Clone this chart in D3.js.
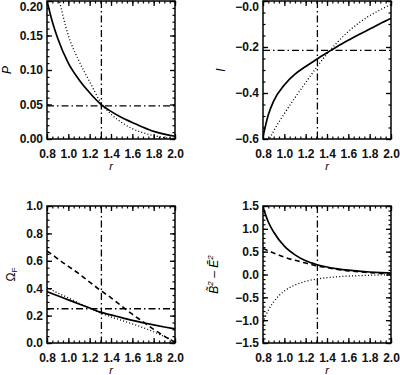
<!DOCTYPE html>
<html>
<head>
<meta charset="utf-8">
<script src="https://cdn.jsdelivr.net/npm/d3@7"></script>
<style>
  body { margin: 0; background: #fff; }
  svg text { font-family: "Liberation Sans", Arial, sans-serif; }
</style>
</head>
<body>
<svg id="chart" width="400" height="375"></svg>
<script>
// radius grid shared by every curve
const rValues = [0.8, 0.85, 0.9, 1.0, 1.1, 1.2, 1.3, 1.4, 1.5, 1.6, 1.7, 1.8, 1.9, 2.0];

// panel 1: P
const pSolid  = [0.200, 0.170, 0.146, 0.110, 0.086, 0.067, 0.051, 0.040, 0.031, 0.024, 0.017, 0.011, 0.007, 0.004];
const pDotted = [0.275, 0.240, 0.210, 0.150, 0.113, 0.083, 0.054, 0.036, 0.024, 0.015, 0.009, 0.005, 0.002, 0.001];
// panel 2: I
const iSolid  = [-0.59, -0.495, -0.435, -0.365, -0.318, -0.285, -0.254, -0.225, -0.197, -0.171, -0.146, -0.122, -0.098, -0.075];
const iDotted = [-0.66, -0.61, -0.565, -0.49, -0.42, -0.355, -0.29, -0.23, -0.178, -0.133, -0.095, -0.064, -0.038, -0.015];
// panel 3: Omega_F
const omSolid  = [0.375, 0.36, 0.345, 0.315, 0.285, 0.255, 0.225, 0.205, 0.185, 0.165, 0.148, 0.132, 0.117, 0.103];
const omDotted = [0.405, 0.385, 0.365, 0.33, 0.29, 0.255, 0.22, 0.19, 0.165, 0.14, 0.112, 0.082, 0.047, 0.01];
const omDashed = [0.67, 0.645, 0.615, 0.56, 0.505, 0.445, 0.385, 0.33, 0.27, 0.21, 0.155, 0.10, 0.05, 0.005];
// panel 4: B^2 - E^2
const bSolid  = [1.47, 1.15, 0.93, 0.62, 0.43, 0.30, 0.22, 0.165, 0.125, 0.095, 0.072, 0.055, 0.042, 0.032];
const bDashed = [0.57, 0.52, 0.47, 0.38, 0.31, 0.25, 0.19, 0.15, 0.11, 0.08, 0.06, 0.04, 0.025, 0.015];
const bDotted = [-1.05, -0.78, -0.6, -0.36, -0.23, -0.15, -0.10, -0.07, -0.05, -0.035, -0.025, -0.017, -0.01, -0.006];

// reference lines
const rCrit = 1.31;
const pLevel = 0.048;
const iLevel = -0.215;
const omLevel = 0.25;

// ticks
const xTicks = [0.8, 1.0, 1.2, 1.4, 1.6, 1.8, 2.0];
const xTickLabels = ["0.8", "1.0", "1.2", "1.4", "1.6", "1.8", "2.0"];
const pTicks = [0, 0.05, 0.10, 0.15, 0.20];
const pTickLabels = ["0.00", "0.05", "0.10", "0.15", "0.20"];
const iTicks = [-0.6, -0.4, -0.2, 0];
const iTickLabels = ["\u22120.6", "\u22120.4", "\u22120.2", "\u22120.0"];
const omTicks = [0, 0.2, 0.4, 0.6, 0.8, 1.0];
const omTickLabels = ["0.0", "0.2", "0.4", "0.6", "0.8", "1.0"];
const bTicks = [-1.5, -1.0, -0.5, 0, 0.5, 1.0, 1.5];
const bTickLabels = ["\u22121.5", "\u22121.0", "\u22120.5", "0.0", "0.5", "1.0", "1.5"];

const styles = {
  solid:  { width: 1.7, dash: null },
  dotted: { width: 1.3, dash: "1,2.2" },
  dashed: { width: 1.6, dash: "5,3.5" }
};

const panels = [
  { x0: 47, x1: 175, y0: 1, y1: 139, ydom: [0, 0.2], ticks: pTicks, labels: pTickLabels, minor: 0.01,
    series: [[pSolid, "solid"], [pDotted, "dotted"]], level: pLevel, ylab: "P", lx: 11 },
  { x0: 263, x1: 391, y0: 1, y1: 139, ydom: [-0.6, 0], ticks: iTicks, labels: iTickLabels, minor: 0.05,
    series: [[iSolid, "solid"], [iDotted, "dotted"]], level: iLevel, ylab: "I", lx: 225 },
  { x0: 47, x1: 175, y0: 206, y1: 343, ydom: [0, 1], ticks: omTicks, labels: omTickLabels, minor: 0.05,
    series: [[omSolid, "solid"], [omDotted, "dotted"], [omDashed, "dashed"]], level: omLevel, ylab: "omega", lx: 15 },
  { x0: 263, x1: 391, y0: 206, y1: 343, ydom: [-1.5, 1.5], ticks: bTicks, labels: bTickLabels, minor: 0.1,
    series: [[bSolid, "solid"], [bDashed, "dashed"], [bDotted, "dotted"]], level: null, ylab: "b2e2", lx: 218 }
];

const svg = d3.select("#chart");

function range(a, b, step) {
  const out = [];
  const n = Math.round((b - a) / step);
  for (let i = 0; i <= n; i++) out.push(+(a + i * step).toFixed(4));
  return out;
}

panels.forEach((p, k) => {
  const x = d3.scaleLinear().domain([0.8, 2.0]).range([p.x0, p.x1]);
  const y = d3.scaleLinear().domain(p.ydom).range([p.y1, p.y0]);
  const g = svg.append("g");
  const w = p.x1 - p.x0, h = p.y1 - p.y0;

  svg.append("clipPath").attr("id", "clip" + k)
    .append("rect").attr("x", p.x0).attr("y", p.y0).attr("width", w).attr("height", h);

  const xMinor = range(0.8, 2.0, 0.05);
  const yMinor = range(p.ydom[0], p.ydom[1], p.minor);

  const axes = [
    [d3.axisBottom(x), p.y1, true, true],
    [d3.axisTop(x), p.y0, true, false],
    [d3.axisLeft(y), p.x0, false, true],
    [d3.axisRight(y), p.x1, false, false]
  ];
  axes.forEach(([ax, pos, horiz, labelled]) => {
    const ticks = horiz ? xTicks : p.ticks;
    const labs = horiz ? xTickLabels : p.labels;
    const minor = horiz ? xMinor : yMinor;
    const tr = horiz ? `translate(0,${pos})` : `translate(${pos},0)`;
    // minor ticks
    g.append("g").attr("transform", tr)
      .call(ax.tickValues(minor).tickSize(-2.5).tickFormat(""))
      .call(s => s.select(".domain").remove())
      .selectAll("line").attr("stroke", "#000").attr("stroke-width", 1.2);
    // major ticks
    const a = g.append("g").attr("transform", tr)
      .call(ax.tickValues(ticks).tickSize(-5).tickPadding(horiz ? 10 : 4)
        .tickFormat((d, i) => labelled ? labs[i] : ""));
    a.select(".domain").remove();
    a.selectAll("line").attr("stroke", "#000").attr("stroke-width", 1.3);
    a.selectAll("text").attr("font-size", 12).attr("font-weight", "bold")
      .attr("fill", "#111").attr("font-family", "Liberation Sans, Arial, sans-serif");
    // keep the top y label inside the picture
    if (!horiz && labelled) {
      a.selectAll("text").filter(d => d === p.ydom[1] && p.y0 < 5).attr("dy", "0.78em");
    }
  });

  // frame
  g.append("rect").attr("x", p.x0).attr("y", p.y0).attr("width", w).attr("height", h)
    .attr("fill", "none").attr("stroke", "#000").attr("stroke-width", 1.5);

  const plot = g.append("g").attr("clip-path", `url(#clip${k})`);

  // reference lines (dash-dot)
  plot.append("line")
    .attr("x1", x(rCrit)).attr("x2", x(rCrit)).attr("y1", p.y0).attr("y2", p.y1)
    .attr("stroke", "#000").attr("stroke-width", 1.3).attr("stroke-dasharray", "7,3,1.5,3");
  if (p.level !== null) {
    plot.append("line")
      .attr("x1", p.x0).attr("x2", p.x1).attr("y1", y(p.level)).attr("y2", y(p.level))
      .attr("stroke", "#000").attr("stroke-width", 1.3).attr("stroke-dasharray", "7,3,1.5,3");
  }

  const line = d3.line().x((d, i) => x(rValues[i])).y(d => y(d)).curve(d3.curveMonotoneX);
  p.series.forEach(([vals, kind]) => {
    plot.append("path").datum(vals)
      .attr("d", line)
      .attr("fill", "none").attr("stroke", "#000")
      .attr("stroke-width", styles[kind].width)
      .attr("stroke-dasharray", styles[kind].dash);
  });

  // x title
  g.append("text").attr("x", (p.x0 + p.x1) / 2).attr("y", p.y1 + 31)
    .attr("text-anchor", "middle").attr("font-size", 11).attr("font-style", "italic")
    .text("r");

  // y title
  const cy = (p.y0 + p.y1) / 2;
  const yt = g.append("text").attr("transform", `translate(${p.lx},${cy}) rotate(-90)`)
    .attr("text-anchor", "middle").attr("font-size", 12);
  if (p.ylab === "omega") {
    yt.append("tspan").text("\u03A9");
    yt.append("tspan").attr("font-size", 8).attr("dy", 2).text("F");
  } else if (p.ylab === "b2e2") {
    yt.attr("font-style", "italic");
    yt.append("tspan").text("B\u0303");
    yt.append("tspan").attr("font-size", 8).attr("dy", -5).text("2");
    yt.append("tspan").attr("dy", 5).attr("font-style", "normal").text("   \u2013   ");
    yt.append("tspan").text("E\u0303");
    yt.append("tspan").attr("font-size", 8).attr("dy", -5).text("2");
  } else {
    yt.attr("font-style", "italic").text(p.ylab);
  }
});
</script>
</body>
</html>
